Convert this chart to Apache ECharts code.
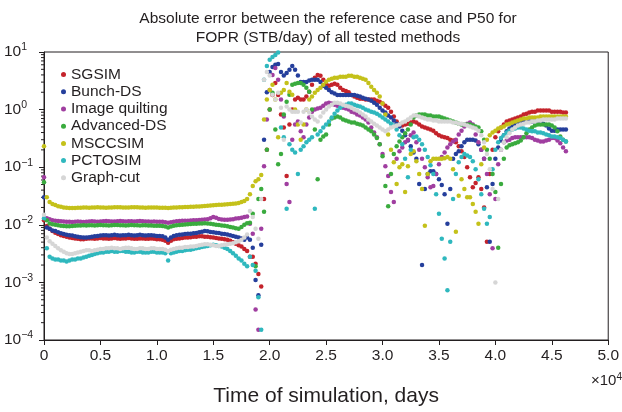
<!DOCTYPE html>
<html>
<head>
<meta charset="utf-8">
<script src="https://cdn.jsdelivr.net/npm/echarts@6/dist/echarts.min.js"></script>
<style>html,body{margin:0;padding:0;background:#fff}#c{width:622px;height:412px}</style>
</head>
<body>
<div id="c"></div>
<script>
const T = [0,250,500,750,1000,1250,1500,1750,2000,2250,2500,2750,3000,3250,3500,3750,4000,4250,4500,4750,5000,5250,5500,5750,6000,6250,6500,6750,7000,7250,7500,7750,8000,8250,8500,8750,9000,9250,9500,9750,10000,10250,10500,10750,11000,11250,11500,11750,12000,12250,12500,12750,13000,13250,13500,13750,14000,14250,14500,14750,15000,15250,15500,15750,16000,16250,16500,16750,17000,17250,17500,17750,18000,18250,18500,18750,19000,19250,19500,19750,20000,20250,20500,20750,21000,21250,21500,21750,22000,22250,22500,22750,23000,23250,23500,23750,24000,24250,24500,24750,25000,25250,25500,25750,26000,26250,26500,26750,27000,27250,27500,27750,28000,28250,28500,28750,29000,29250,29500,29750,30000,30250,30500,30750,31000,31250,31500,31750,32000,32250,32500,32750,33000,33250,33500,33750,34000,34250,34500,34750,35000,35250,35500,35750,36000,36250,36500,36750,37000,37250,37500,37750,38000,38250,38500,38750,39000,39250,39500,39750,40000,40250,40500,40750,41000,41250,41500,41750,42000,42250,42500,42750,43000,43250,43500,43750,44000,44250,44500,44750,45000,45250,45500,45750,46000,46250];

const SGSIM = [0.012,0.0095,0.0085,0.0078,0.0073,0.0069,0.0066,0.0064,0.0062,0.006,
0.0059,0.0058,0.0057,0.0056,0.0056,0.0057,0.0058,0.0058,0.0057,0.0058,0.0059,
0.0058,0.0058,0.0057,0.0058,0.0059,0.0058,0.0057,0.0058,0.0058,0.0059,0.0058,0.0057,0.0057,0.0058,0.0058,0.0057,0.0057,0.0058,0.0057,0.0056,
0.0056,0.0055,0.0053,0.0049,0.0053,0.0056,
0.0057,0.0058,0.0059,0.006,0.006,0.0061,0.0062,0.0062,0.0063,0.0063,0.0062,0.0062,0.0061,0.006,
0.0059,0.0058,0.0057,0.0056,0.0055,0.0053,0.005,0.0047,0.0044,0.0042,0.0038,0.0035,
0.0028,0.0028,0.0021,0.0014,0.00085,0.028,0.20,1.0,1.8,2.9,1.8,
0.82,0.49,0.07,0.55,1.0,1.49,1.61,1.49,1.49,1.68,
2.04,2.7,3.56,4.0,3.86,3.3,2.8,2.6,2.7,2.8,
2.7,2.4,2.2,2.1,2.0,1.8,1.68,1.61,1.55,1.55,
1.49,1.49,1.49,1.49,1.43,1.37,1.27,1.17,1.08,0.92,
0.76,0.62,0.55,0.53,0.55,0.57,0.60,0.62,0.60,0.55,
0.51,0.49,0.47,0.45,0.43,0.39,0.36,0.34,0.33,0.32,
0.30,0.29,0.27,0.23,0.19,0.15,0.10,0.067,0.045,0.053,
0.067,0.042,0.020,0.0051,0.076,0.20,0.33,0.42,0.49,0.55,
0.62,0.65,0.67,0.70,0.73,0.76,0.82,0.85,0.89,0.92,
0.92,0.96,0.96,0.96,0.96,0.96,0.92,0.92,0.92,0.92,0.89,0.89];

const BUNCH_DS = [0.03,0.009,0.0085,0.008,0.0078,0.0074,0.0071,0.0069,0.0067,
0.0066,0.0065,0.0063,0.0062,0.0061,0.006,0.006,0.0061,0.0062,0.0063,0.0064,0.0065,
0.0066,0.0066,0.0065,0.0066,0.0067,0.0066,0.0065,0.0066,0.0066,0.0067,0.0066,0.0065,0.0066,0.0067,0.0066,0.0065,0.0066,0.0066,0.0065,0.0064,
0.0064,0.0063,0.006,0.0055,0.006,0.0064,
0.0066,0.0067,0.0068,0.0069,0.007,0.007,0.0071,0.0072,0.0074,0.0076,0.0078,0.0077,0.0075,0.0074,
0.0073,0.0072,0.007,0.0069,0.0068,0.0066,0.0064,0.0062,0.006,0.0058,0.0055,0.006,
0.0055,0.004,0.0011,0.0006,0.0045,0.3,2.0,4.5,5.5,6.0,6.2,
4.5,3.9,4.3,4.9,5.7,4.9,3.9,3.0,3.0,3.0,
3.2,3.3,3.3,3.3,3.0,2.6,2.4,2.2,2.0,1.9,
1.8,1.8,1.8,1.8,1.8,1.8,1.8,1.74,1.68,1.61,
1.55,1.49,1.43,1.32,1.22,1.08,0.96,0.89,0.79,0.73,
0.65,0.57,0.51,0.43,0.36,0.29,0.23,0.18,0.14,0.051,
0.002,0.042,0.076,0.085,0.085,0.076,0.062,0.049,0.034,0.0104,
0.042,0.14,0.17,0.19,0.23,0.27,0.30,0.30,0.30,0.29,
0.25,0.20,0.14,0.045,0.0051,0.051,0.14,0.22,0.29,0.36,
0.42,0.47,0.51,0.55,0.57,0.60,0.62,0.62,0.62,0.62,
0.62,0.62,0.60,0.57,0.53,0.47,0.43,0.43,0.45,0.45,0.45,0.45];

const IMAGE_QUILTING = [0.067,0.013,0.0125,0.012,0.0118,
0.0116,0.0115,0.0114,0.0113,0.0113,0.0112,0.0113,0.0114,0.0113,0.0112,0.0113,
0.0114,0.0115,0.0114,0.0113,0.0114,0.0115,0.0116,0.0115,0.0114,0.0114,0.0115,0.0116,0.0115,0.0114,0.0115,0.0115,0.0114,0.0115,0.0116,0.0115,0.0114,0.0114,0.0113,0.0114,0.0113,
0.0113,0.0113,0.0111,0.0108,0.0111,0.0113,
0.0115,0.0116,0.0117,0.0118,0.0118,0.0119,0.012,0.012,0.0121,0.0122,0.0123,0.0125,0.013,0.0136,
0.0132,0.0126,0.0123,0.0122,0.0122,0.0123,0.0125,0.0128,0.013,0.0133,0.0136,0.014,
0.0104,0.007,0.00034,0.00015,0.0085,0.104,0.67,2.2,4.0,5.3,3.3,
1.49,0.76,0.051,0.025,0.30,0.55,0.62,0.42,0.33,0.55,
0.73,0.92,1.0,1.04,1.08,1.17,1.27,1.32,1.27,1.22,
1.17,1.13,1.08,1.04,1.0,0.92,0.89,0.82,0.79,0.73,
0.67,0.60,0.49,0.40,0.33,0.25,0.17,0.104,0.070,0.037,
0.025,0.14,0.19,0.22,0.27,0.30,0.36,0.40,0.27,0.20,
0.14,0.10,0.067,0.045,0.047,0.076,0.113,0.15,0.18,0.22,
0.25,0.28,0.30,0.37,0.43,0.51,0.57,0.60,0.55,0.37,
0.27,0.20,0.14,0.076,0.034,0.0039,0.028,0.113,0.20,0.27,
0.29,0.30,0.32,0.33,0.33,0.33,0.33,0.33,0.33,0.32,
0.30,0.29,0.28,0.28,0.29,0.30,0.32,0.32,0.29,0.26,0.22,0.19];

const ADVANCED_DS = [0.055,0.012,0.0105,0.0102,0.01,
0.0098,0.0096,0.0095,0.0094,0.0094,0.0095,0.0096,0.0097,0.0097,0.0098,0.0097,
0.0098,0.0098,0.0097,0.0098,0.0099,0.0098,0.0098,0.0097,0.0098,0.0099,0.0099,0.0098,0.0098,0.0097,0.0098,0.0099,0.0098,0.0098,0.0097,0.0098,0.0098,0.0097,0.0097,0.0096,0.0096,
0.0096,0.0095,0.0093,0.009,0.0093,0.0096,
0.0098,0.0099,0.01,0.0101,0.0102,0.0103,0.0104,0.0104,0.0105,0.0105,0.0106,0.0105,0.0104,0.0102,
0.01,0.0099,0.0097,0.0096,0.0094,0.0092,0.009,0.0087,0.0085,0.0092,0.01,0.0106,
0.0108,0.0155,0.0019,0.028,0.042,0.0168,0.20,1.0,1.96,0.45,0.113,
0.17,0.82,1.37,1.81,2.7,2.8,2.9,2.9,2.7,2.4,
2.04,1.0,0.45,0.062,0.30,0.34,0.37,0.55,0.70,0.73,
0.76,0.73,0.67,0.65,0.62,0.60,0.60,0.57,0.55,0.53,
0.49,0.45,0.42,0.37,0.32,0.25,0.155,0.047,0.021,0.076,
0.17,0.23,0.28,0.33,0.39,0.45,0.55,0.73,0.79,0.82,
0.82,0.82,0.79,0.79,0.76,0.76,0.76,0.73,0.70,0.67,
0.65,0.62,0.60,0.57,0.55,0.55,0.55,0.55,0.53,0.51,
0.49,0.42,0.30,0.20,0.14,0.076,0.037,0.004,0.051,0.14,
0.22,0.24,0.25,0.26,0.27,0.29,0.33,0.39,0.45,0.49,
0.53,0.55,0.55,0.55,0.55,0.55,0.53,0.49,0.42,0.34,0.30,0.28];

const MSCCSIM = [0.23,0.03,0.025,0.023,0.022,0.021,
0.0205,0.02,0.0198,0.0196,0.0195,0.0196,0.0197,0.0198,0.02,0.0199,
0.0198,0.0199,0.02,0.0201,0.02,0.0199,0.0198,0.0199,0.02,0.0201,0.0202,0.0201,0.02,0.0199,0.02,0.0201,0.0202,0.0201,0.02,0.0199,0.0198,0.0199,0.02,0.02,0.0199,
0.0198,0.0198,0.0197,0.0195,0.0197,0.0199,
0.02,0.0201,0.0202,0.0203,0.0204,0.0205,0.0206,0.0207,0.0208,0.021,0.0212,0.0214,0.0216,0.0218,
0.022,0.0222,0.0224,0.0226,0.0228,0.023,0.0232,0.0235,0.024,0.025,0.026,0.028,
0.034,0.047,0.057,0.062,0.073,0.67,1.49,2.2,2.7,1.49,0.33,
1.96,2.2,2.9,2.04,1.81,1.0,0.55,0.30,0.55,1.0,
1.49,1.68,1.96,2.2,2.4,2.7,3.04,3.3,3.42,3.56,
3.56,3.71,3.71,3.71,3.86,3.86,3.71,3.71,3.56,3.42,
3.3,2.9,2.5,2.2,1.96,1.68,1.27,0.82,0.37,0.20,
0.122,0.051,0.10,0.113,0.037,0.104,0.17,0.19,0.127,0.076,
0.042,0.0096,0.076,0.127,0.14,0.14,0.14,0.14,0.143,0.15,
0.14,0.092,0.0076,0.032,0.062,0.042,0.030,0.030,0.023,0.0168,
0.0104,0.113,0.22,0.30,0.36,0.40,0.43,0.47,0.49,0.51,
0.55,0.57,0.60,0.62,0.65,0.67,0.70,0.70,0.73,0.73,
0.73,0.73,0.76,0.76,0.76,0.76,0.76,0.76,0.76,0.76,0.76,0.76];

const PCTOSIM = [0.013,0.0039,0.0028,0.0026,
0.0025,0.0025,0.0024,0.0024,0.0023,0.0024,0.0025,0.0025,0.0026,0.0026,0.0027,
0.0028,0.0029,0.003,0.0031,0.0032,0.0033,
0.0033,0.0034,0.0034,0.0035,0.0034,0.0034,0.0035,0.0035,0.0034,0.0034,0.0033,0.0033,0.0034,0.0034,0.0033,0.0033,0.0033,0.0034,0.0034,0.0033,
0.0033,0.0033,0.0032,0.0024,0.0032,0.0033,
0.0034,0.0035,0.0035,0.0036,0.0037,0.0037,0.0038,0.0039,0.004,0.0041,0.0042,0.0043,0.0044,0.0045,
0.0044,0.0043,0.0042,0.004,0.0038,0.0035,0.0032,0.0029,0.0026,0.0024,0.0021,0.0019,
0.0028,0.002,0.0016,0.00055,0.00015,3.3,5.7,7.3,8.2,8.9,9.8,
0.49,0.33,0.019,0.25,0.20,0.18,0.076,0.20,0.23,0.27,
0.30,0.33,0.019,0.37,0.42,0.49,0.55,0.62,0.73,0.85,
0.96,1.08,1.17,1.22,1.27,1.27,1.22,1.17,1.13,1.08,
1.0,0.96,0.92,0.89,0.85,0.79,0.73,0.67,0.62,0.57,
0.53,0.45,0.36,0.25,0.14,0.067,0.20,0.33,0.34,0.30,
0.25,0.20,0.15,0.108,0.076,0.034,0.0155,0.0057,0.0026,0.00073,
0.0051,0.028,0.076,0.122,0.15,0.17,0.16,0.15,0.127,0.092,
0.062,0.034,0.019,0.0104,0.0137,0.092,0.20,0.27,0.32,0.36,
0.40,0.43,0.45,0.47,0.49,0.49,0.47,0.45,0.43,0.42,
0.42,0.40,0.40,0.39,0.37,0.36,0.34,0.34,0.33,0.32,0.30,0.28];

const GRAPH_CUT = [0.015,0.006,0.0052,0.0047,0.0043,0.0039,0.0036,0.0034,0.0032,0.0031,0.0031,0.0032,0.0033,0.0034,0.0035,0.0036,0.0036,0.0035,0.0036,0.0037,0.0038,
0.0038,0.0039,0.0039,0.004,0.0039,0.0039,0.0038,0.0039,0.004,0.004,0.0039,0.0038,0.0038,0.0039,0.0039,0.0038,0.0038,0.0039,0.0039,0.0038,
0.0038,0.0038,0.0037,0.0035,0.0037,0.0038,
0.0039,0.004,0.004,0.0041,0.0041,0.0042,0.0042,0.0043,0.0044,0.0045,0.0046,0.0046,0.0045,0.0044,
0.0043,0.0043,0.0044,0.0045,0.0046,0.0047,0.0048,0.005,0.0052,0.0055,0.006,0.0068,
0.0174,0.0137,0.0085,0.0057,0.028,3.3,4.5,3.9,1.81,1.49,1.96,
1.08,0.30,1.13,1.0,0.92,0.92,0.92,0.60,0.92,1.0,
0.89,0.76,0.67,0.62,0.76,0.89,1.0,1.13,1.22,1.32,
1.32,1.27,1.22,1.17,1.13,1.08,1.0,0.96,0.89,0.82,
0.76,0.67,0.62,0.57,0.53,0.49,0.45,0.42,0.45,0.49,
0.51,0.53,0.55,0.60,0.62,0.67,0.73,0.79,0.79,0.76,
0.73,0.70,0.67,0.67,0.65,0.65,0.62,0.62,0.62,0.62,
0.62,0.60,0.60,0.57,0.57,0.55,0.53,0.51,0.49,0.47,
0.43,0.36,0.27,0.17,0.092,0.042,0.001,0.028,0.20,0.27,
0.33,0.39,0.45,0.49,0.53,0.55,0.57,0.60,0.60,0.62,
0.62,0.65,0.65,0.67,0.67,0.67,0.67,0.67,0.70,0.70,0.70,0.70];

const SERIES_NAMES = ['SGSIM','Bunch-DS','Image quilting','Advanced-DS','MSCCSIM','PCTOSIM','Graph-cut'];
const SERIES_VALUES = [SGSIM, BUNCH_DS, IMAGE_QUILTING, ADVANCED_DS, MSCCSIM, PCTOSIM, GRAPH_CUT];
const SERIES_COLORS = ['#c4232b','#253f9c','#a03ea0','#3aab3e','#c4c11a','#2fb8be','#d6d6d6'];
const X_TICKS = [0,5000,10000,15000,20000,25000,30000,35000,40000,45000,50000];
const Y_DECADES = [-4,-3,-2,-1,0,1];
const MINOR_MULT = [2,3,4,5,6,7,8,9];

const FONT = '"Liberation Sans", Arial, sans-serif';
const TXT = '#231f20';

const minorTicks = [];
Y_DECADES.slice(0, -1).forEach(d => MINOR_MULT.forEach(m => minorTicks.push([0, m * Math.pow(10, d)])));

const series = SERIES_NAMES.map((name, s) => ({
  name, type: 'scatter', symbol: 'circle', symbolSize: 4.5,
  itemStyle: { color: SERIES_COLORS[s], opacity: 1 },
  emphasis: { disabled: true },
  data: T.map((t, i) => [t, SERIES_VALUES[s][i]])
}));
series.push({
  name: 'minor', type: 'custom', clip: false, silent: true,
  data: minorTicks,
  renderItem: (params, api) => {
    const p = api.coord([api.value(0), api.value(1)]);
    return { type: 'line', shape: { x1: p[0] - 3, y1: p[1], x2: p[0], y2: p[1] }, style: { stroke: TXT, lineWidth: 1 } };
  }
});

const chart = echarts.init(document.getElementById('c'), null, { renderer: 'canvas' });
chart.setOption({
  animation: false,
  backgroundColor: '#fff',
  grid: { left: 44, top: 52, width: 567, height: 290.5, show: true, borderColor: TXT, borderWidth: 1, backgroundColor: 'transparent' },
  legend: {
    data: SERIES_NAMES, orient: 'vertical', left: 56, top: 61, itemGap: 0,
    icon: 'circle', itemWidth: 5, itemHeight: 5,
    textStyle: { fontSize: 15.5, lineHeight: 17.2, color: TXT, fontFamily: FONT },
    selectedMode: false
  },
  xAxis: {
    type: 'value', min: 0, max: 50000, interval: 5000,
    axisLine: { lineStyle: { color: TXT, width: 1 } },
    axisTick: { inside: false, length: 5, lineStyle: { color: TXT } },
    splitLine: { show: false },
    axisLabel: { margin: 8, fontSize: 15.5, color: TXT, fontFamily: FONT,
      formatter: v => X_TICKS.indexOf(v) < 0 ? '' : (v === 0 ? '0' : (v / 10000).toFixed(1)) },
    name: 'Time of simulation, days', nameLocation: 'middle', nameGap: 46,
    nameTextStyle: { fontSize: 21, color: TXT, fontFamily: FONT }
  },
  yAxis: {
    type: 'log', logBase: 10, min: 1e-4, max: 10,
    axisLine: { lineStyle: { color: TXT, width: 1 } },
    axisTick: { inside: false, length: 5, lineStyle: { color: TXT } },
    splitLine: { show: false },
    axisLabel: {
      margin: 40, align: 'left', color: TXT, fontFamily: FONT,
      formatter: v => {
        const e = Math.round(Math.log10(v));
        return '{b|10}{s|' + (e < 0 ? '\u2212' + (-e) : e) + '}';
      },
      rich: {
        b: { fontSize: 15.5, fontFamily: FONT, color: TXT, lineHeight: 20 },
        s: { fontSize: 10.5, fontFamily: FONT, color: TXT, verticalAlign: 'top', lineHeight: 12 }
      }
    }
  },
  graphic: [
    { type: 'text', x: 328, y: 9, silent: true,
      style: { text: 'Absolute error between the reference case and P50 for\nFOPR (STB/day) of all tested methods',
        align: 'center', fontSize: 15.5, fontFamily: FONT, lineHeight: 19, fill: TXT } },
    { type: 'text', x: 591, y: 372, silent: true,
      style: { text: '{a|\u00d710}{s|4}', fill: TXT,
        rich: { a: { fontSize: 15, fontFamily: FONT, fill: TXT, lineHeight: 18 }, s: { fontSize: 10, fontFamily: FONT, fill: TXT, verticalAlign: 'top', lineHeight: 12 } } } }
  ],
  series
});
</script>
</body>
</html>
